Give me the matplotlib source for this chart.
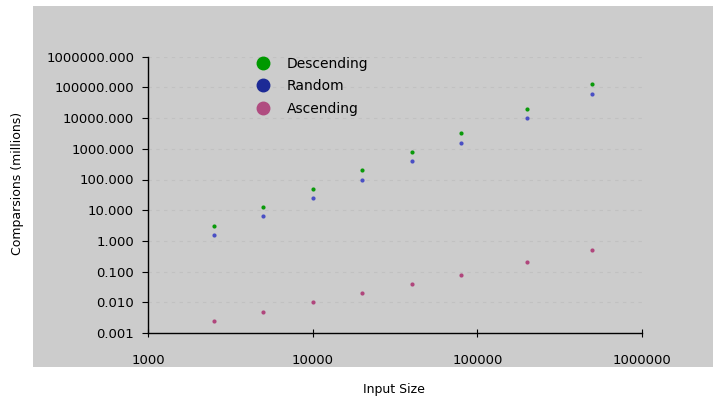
import numpy as np
import matplotlib.pyplot as plt
from matplotlib.patches import Rectangle
from matplotlib.lines import Line2D
from matplotlib.ticker import FixedLocator, FuncFormatter, NullLocator

# Donnees
input_size = [2500, 5000, 10000, 20000, 40000, 80000, 200000, 500000]
descending = [3.125, 12.5, 50, 200, 800, 3200, 20000, 125000]
random_cmp = [1.5625, 6.25, 25, 100, 400, 1600, 10000, 62500]
ascending = [0.0025, 0.005, 0.01, 0.02, 0.04, 0.08, 0.2, 0.5]

y_ticks = [0.001, 0.01, 0.1, 1, 10, 100, 1000, 10000, 100000, 1000000]
x_ticks = [1000, 10000, 100000, 1000000]

series_names = ['Descending', 'Random', 'Ascending']
point_colors = ['#0a9a0a', '#4a4fc4', '#b0467c']
legend_colors = ['#009900', '#1c2a96', '#b04c80']

bg = '#cccccc'

fig = plt.figure(figsize=(7.13, 3.99), dpi=100)
fig.patches.append(Rectangle((33 / 713, 1 - 367 / 399), 680 / 713, 361 / 399,
                             transform=fig.transFigure, facecolor=bg,
                             edgecolor='none', zorder=-10))

ax = fig.add_axes([148 / 713, 1 - 333 / 399, 494 / 713, 276.3 / 399])
ax.set_facecolor(bg)
ax.set_xscale('log')
ax.set_yscale('log')
ax.set_xlim(1000, 1000000)
ax.set_ylim(0.001, 1000000)

data = [descending, random_cmp, ascending]
for vals, c in zip(data, point_colors):
    ax.scatter(input_size, vals, s=9, color=c, zorder=3, linewidths=0)

ax.yaxis.set_major_locator(FixedLocator(y_ticks))
ax.xaxis.set_major_locator(FixedLocator(x_ticks))
ax.yaxis.set_minor_locator(NullLocator())
ax.xaxis.set_minor_locator(NullLocator())
ax.yaxis.set_major_formatter(FuncFormatter(lambda v, p: '%.3f' % v))
ax.xaxis.set_major_formatter(FuncFormatter(lambda v, p: '%d' % v))

ax.grid(axis='y', color='#c1c1c1', linestyle=(0, (3, 4)), linewidth=0.8)
ax.set_axisbelow(True)

for s in ['top', 'right']:
    ax.spines[s].set_visible(False)
for s in ['left', 'bottom']:
    ax.spines[s].set_color('black')
    ax.spines[s].set_linewidth(1.0)

ax.tick_params(axis='y', direction='out', length=4, width=0.8, labelsize=9.5, pad=6)
ax.tick_params(axis='x', direction='inout', length=6, width=0.8, labelsize=9.5, pad=12)

handles = [Line2D([], [], linestyle='none', marker='o', markersize=9,
                  markerfacecolor=c, markeredgecolor=c) for c in legend_colors]
ax.legend(handles, series_names, loc='upper left', bbox_to_anchor=(249 / 713, 1 - 50 / 399),
          bbox_transform=fig.transFigure, frameon=False, fontsize=10,
          handlelength=1.0, handletextpad=1.2, labelspacing=0.6, borderpad=0)

fig.text(18 / 713, 1 - 183 / 399, 'Comparsions (millions)', rotation=90,
         ha='center', va='center', fontsize=9)
fig.text(394 / 713, 1 - 390 / 399, 'Input Size', ha='center', va='center', fontsize=9)

fig.savefig('out.png', dpi=100)
